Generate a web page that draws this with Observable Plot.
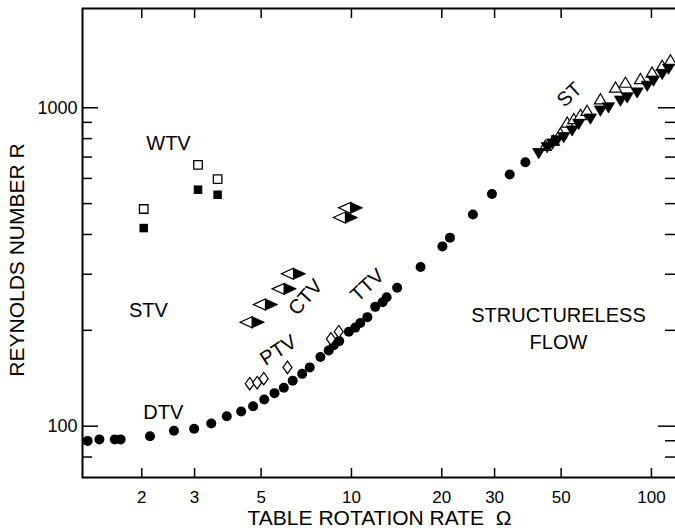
<!DOCTYPE html>
<html><head><meta charset="utf-8">
<script src="https://cdn.jsdelivr.net/npm/d3@7"></script>
<script src="https://cdn.jsdelivr.net/npm/@observablehq/plot@0.6"></script>
<style>
html,body{margin:0;padding:0;background:#fff;}
#chart svg{display:block;}
</style>
</head><body><div id="chart"></div>
<script>
// ---- data (Omega = table rotation rate, R = Reynolds number)
const circleOmega = [1.32, 1.445, 1.626, 1.70, 2.13, 2.56, 2.99, 3.41, 3.84, 4.29, 4.70, 5.12, 5.54, 5.95, 6.37, 6.85, 7.26, 7.88, 8.40, 8.73, 9.10, 9.80, 10.3, 10.7, 11.3, 12.0, 12.7, 13.1, 14.2, 17.0, 20.1, 21.3, 25.4, 29.4, 33.7, 38.0];
const circleR     = [89.9, 90.9, 90.9, 90.9, 93.0, 96.7, 98.1, 102, 107.5, 111.2, 115.5, 121.3, 127, 132, 139, 146, 153, 165, 173, 179.5, 185, 198, 204, 211, 220, 237, 245, 254, 272, 316, 367, 391, 462, 536, 617, 674];

const wtvOmega = [2.03, 3.08, 3.58];
const wtvOpenR = [481, 662, 597];
const wtvFilledR = [419, 553, 533];

const ptvOmega = [4.58, 4.85, 5.10, 6.12, 8.54, 9.07];
const ptvR     = [136, 137, 141, 153, 188, 198];

const ctvOmega = [4.67, 5.17, 5.97, 6.41, 9.55, 9.93];
const ctvR     = [212, 241, 270, 301, 452, 485];

const stFilledOmega = [42.1, 44.9, 46.8, 48.5, 51.0, 54.4, 57.2, 62.6, 67.6, 71.9, 78.8, 83.0, 89.6, 96.8, 101.6, 108.6, 114];
const stFilledR     = [720, 751, 771, 789, 808, 848, 889, 924, 979, 1002, 1052, 1077, 1116, 1172, 1216, 1276, 1325];
const stOpenOmega = [44.3, 47.1, 49.7, 52.4, 55.1, 58.0, 61.0, 67.6, 75.9, 81.9, 91.9, 100.5, 108.6, 115.7];
const stOpenR     = [760, 789, 831, 899, 922, 950, 979, 1064, 1158, 1200, 1231, 1291, 1355, 1410];

const labelText  = ["WTV", "STV", "DTV", "PTV", "CTV", "TTV", "ST", "STRUCTURELESS", "FLOW"];
const labelOmega = [2.455, 2.105, 2.36, 5.71, 7.03, 11.3, 53.3, 49, 49];
const labelR     = [771, 231, 110, 173, 254, 277, 1099, 223, 183];
const labelAngle = [0, 0, 0, -33, -48, -43, -43, 0, 0];

const xTickValues = [2, 3, 5, 10, 20, 30, 50, 100];
const yMajorTicks = [100, 1000];
const yMinorLeft  = [80, 200, 300, 400, 500, 600, 700, 800, 900];
const yMinorRight = [80, 90, 200, 300, 400, 500, 600, 700, 800, 900];
const xTitle = "TABLE ROTATION RATE  Ω";
const yTitle = "REYNOLDS NUMBER R";

// ---- tables
const zip = (xs, ys) => xs.map((x, i) => ({x, y: ys[i]}));
const circles = zip(circleOmega, circleR);
const wtvOpen = zip(wtvOmega, wtvOpenR);
const wtvFilled = zip(wtvOmega, wtvFilledR);
const ptv = zip(ptvOmega, ptvR);
const ctv = zip(ctvOmega, ctvR);
const stFilled = zip(stFilledOmega, stFilledR);
const stOpen = zip(stOpenOmega, stOpenR);
const labels = labelText.map((t, i) => ({t, x: labelOmega[i], y: labelR[i], a: labelAngle[i]}));

// ---- custom symbols
const rOf = size => Math.sqrt(size / Math.PI);
const symLeftHalf = {draw(c, size) { const s = rOf(size); c.moveTo(0, -s); c.lineTo(0, s); c.lineTo(-2.2 * s, 0); c.closePath(); }};
const symRightHalf = {draw(c, size) { const s = rOf(size); c.moveTo(0, -s); c.lineTo(2.2 * s, 0); c.lineTo(0, s); c.closePath(); }};
const symUp = {draw(c, size) { const s = rOf(size); c.moveTo(0, -s); c.lineTo(1.1 * s, 0.85 * s); c.lineTo(-1.1 * s, 0.85 * s); c.closePath(); }};
const symDown = {draw(c, size) { const s = rOf(size); c.moveTo(-1.1 * s, -0.85 * s); c.lineTo(1.1 * s, -0.85 * s); c.lineTo(0, s); c.closePath(); }};
const symDiamond = {draw(c, size) { const s = rOf(size); c.moveTo(0, -1.25 * s); c.lineTo(0.9 * s, 0); c.lineTo(0, 1.25 * s); c.lineTo(-0.9 * s, 0); c.closePath(); }};

const W = 675, H = 528, ML = 82, MR = -1, MT = 8, MB = 51;
const PW = W - ML - MR, PH = H - MT - MB;
const font = "'Liberation Sans', Arial, sans-serif";

const chart = Plot.plot({
  width: W, height: H,
  marginLeft: ML, marginRight: MR, marginTop: MT, marginBottom: MB,
  style: {fontFamily: font, fontSize: "18px", background: "white", color: "black", overflow: "visible"},
  x: {type: "log", domain: [1.269, 121.2], ticks: xTickValues, tickFormat: d3.format("d")},
  y: {type: "log", domain: [69, 2050], ticks: yMajorTicks, tickFormat: d3.format("d")},
  marks: [
    Plot.axisX({ticks: xTickValues, tickFormat: d3.format("d"), tickSize: 0, tickPadding: 13, label: null, fontSize: 17}),
    Plot.axisY({ticks: yMajorTicks, tickFormat: d3.format("d"), tickSize: 0, tickPadding: 5, label: null, fontSize: 18}),
    // inward tick marks
    Plot.ruleX(xTickValues, {x: d => d, insetTop: PH - 9, stroke: "black", strokeWidth: 1.5}),
    Plot.ruleX(xTickValues, {x: d => d, insetBottom: PH - 10, stroke: "black", strokeWidth: 1.5}),
    Plot.ruleY(yMajorTicks, {y: d => d, insetRight: PW - 16, stroke: "black", strokeWidth: 1.5}),
    Plot.ruleY(yMinorLeft, {y: d => d, insetRight: PW - 10, stroke: "black", strokeWidth: 1.5}),
    Plot.ruleY(yMajorTicks, {y: d => d, insetLeft: PW - 18, stroke: "black", strokeWidth: 1.5}),
    Plot.ruleY(yMinorRight, {y: d => d, insetLeft: PW - 11, stroke: "black", strokeWidth: 1.5}),
    Plot.frame({stroke: "black", strokeWidth: 2}),
    // data
    Plot.dot(circles, {x: "x", y: "y", r: 5, fill: "black", stroke: "none"}),
    Plot.dot(wtvOpen, {x: "x", y: "y", symbol: "square", r: 4.8, fill: "white", stroke: "black", strokeWidth: 1.3}),
    Plot.dot(wtvFilled, {x: "x", y: "y", symbol: "square", r: 4.8, fill: "black", stroke: "none"}),
    Plot.dot(ptv, {x: "x", y: "y", symbol: symDiamond, r: 5, fill: "white", stroke: "black", strokeWidth: 1.2}),
    Plot.dot(ctv, {x: "x", y: "y", symbol: symLeftHalf, r: 5.5, fill: "white", stroke: "black", strokeWidth: 1.2}),
    Plot.dot(ctv, {x: "x", y: "y", symbol: symRightHalf, r: 5.5, fill: "black", stroke: "black", strokeWidth: 0.8}),
    Plot.dot(stOpen, {x: "x", y: "y", symbol: symUp, r: 5.5, fill: "white", stroke: "black", strokeWidth: 1.2}),
    Plot.dot(stFilled, {x: "x", y: "y", symbol: symDown, r: 5.5, fill: "black", stroke: "black", strokeWidth: 0.8}),
    // region labels
    Plot.text(labels, {x: "x", y: "y", text: "t", rotate: "a", fontSize: 20, fill: "black", textAnchor: "middle", lineAnchor: "middle"}),
    // axis titles
    Plot.text([xTitle], {frameAnchor: "bottom", dy: 41, fontSize: 21, fill: "black", textAnchor: "middle", lineAnchor: "middle", ariaLabel: "x-title"}),
    Plot.text([yTitle], {frameAnchor: "left", dx: -65, dy: 17, rotate: -90, fontSize: 21, fill: "black", textAnchor: "middle", lineAnchor: "middle", ariaLabel: "y-title"})
  ]
});
d3.select(chart).selectAll('g[aria-label="x-title"] text').style("letter-spacing", "0.7px");
document.getElementById("chart").appendChild(chart);
</script>
</body></html>
